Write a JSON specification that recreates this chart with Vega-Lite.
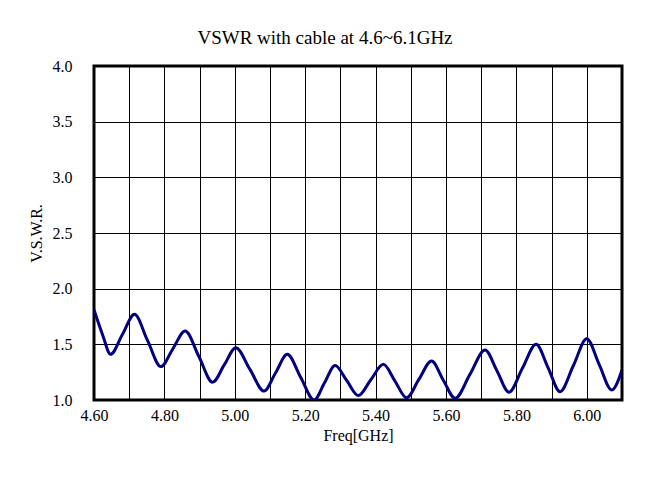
{
  "$schema": "https://vega.github.io/schema/vega-lite/v6.json",
  "width": 528,
  "height": 334,
  "autosize": {"type": "none"},
  "padding": {"left": 94, "top": 66, "right": 30, "bottom": 88},
  "background": "white",
  "title": {"text": "VSWR with cable at 4.6~6.1GHz", "font": "Liberation Serif", "fontSize": 19, "fontWeight": "normal", "color": "black", "offset": 10, "anchor": "middle", "frame": "bounds"},
  "config": {
    "view": {"stroke": "black", "strokeWidth": 3},
    "axis": {"labelFont": "Liberation Serif", "titleFont": "Liberation Serif", "labelColor": "black", "titleColor": "black", "titleFontWeight": "normal", "gridColor": "black", "gridOpacity": 1, "gridWidth": 1, "domain": false, "ticks": false}
  },
  "data": {"values": [
    {"f": 4.600, "v": 1.81}, {"f": 4.625, "v": 1.58}, {"f": 4.647, "v": 1.41}, {"f": 4.681, "v": 1.59},
    {"f": 4.715, "v": 1.77}, {"f": 4.752, "v": 1.535}, {"f": 4.790, "v": 1.30}, {"f": 4.824, "v": 1.46},
    {"f": 4.859, "v": 1.62}, {"f": 4.898, "v": 1.39}, {"f": 4.937, "v": 1.16}, {"f": 4.970, "v": 1.315},
    {"f": 5.003, "v": 1.47}, {"f": 5.043, "v": 1.275}, {"f": 5.083, "v": 1.08}, {"f": 5.116, "v": 1.245},
    {"f": 5.149, "v": 1.41}, {"f": 5.187, "v": 1.205}, {"f": 5.225, "v": 1.00}, {"f": 5.255, "v": 1.155},
    {"f": 5.285, "v": 1.31}, {"f": 5.318, "v": 1.175}, {"f": 5.351, "v": 1.04}, {"f": 5.386, "v": 1.18},
    {"f": 5.422, "v": 1.32}, {"f": 5.455, "v": 1.17}, {"f": 5.488, "v": 1.02}, {"f": 5.523, "v": 1.185},
    {"f": 5.559, "v": 1.35}, {"f": 5.592, "v": 1.18}, {"f": 5.626, "v": 1.015}, {"f": 5.668, "v": 1.23},
    {"f": 5.711, "v": 1.45}, {"f": 5.745, "v": 1.26}, {"f": 5.779, "v": 1.07}, {"f": 5.817, "v": 1.285},
    {"f": 5.856, "v": 1.50}, {"f": 5.890, "v": 1.29}, {"f": 5.924, "v": 1.075}, {"f": 5.962, "v": 1.31},
    {"f": 6.000, "v": 1.55}, {"f": 6.035, "v": 1.32}, {"f": 6.071, "v": 1.09}, {"f": 6.100, "v": 1.27}
  ]},
  "mark": {"type": "line", "color": "#000080", "strokeWidth": 3, "interpolate": "monotone", "clip": true},
  "encoding": {
    "x": {"field": "f", "type": "quantitative", "title": "Freq[GHz]",
      "scale": {"domain": [4.6, 6.1], "nice": false, "zero": false},
      "axis": {"values": [4.6, 4.7, 4.8, 4.9, 5.0, 5.1, 5.2, 5.3, 5.4, 5.5, 5.6, 5.7, 5.8, 5.9, 6.0, 6.1],
        "labelExpr": "round(datum.value*10) % 2 == 0 ? format(datum.value, '.2f') : ''",
        "labelFont": "Liberation Serif", "titleFont": "Liberation Serif",
        "labelFontSize": 16, "titleFontSize": 16, "labelPadding": 7, "titlePadding": 4, "titleBaseline": "top", "labelFlush": false, "labelOverlap": false}},
    "y": {"field": "v", "type": "quantitative", "title": "V.S.W.R.",
      "scale": {"domain": [1, 4], "nice": false, "zero": false},
      "axis": {"values": [1, 1.5, 2, 2.5, 3, 3.5, 4], "format": ".1f",
        "labelFont": "Liberation Serif", "titleFont": "Liberation Serif",
        "labelFontSize": 16, "titleFontSize": 16, "labelPadding": 22, "titlePadding": 8, "labelFlush": false, "labelOverlap": false}}
  }
}
